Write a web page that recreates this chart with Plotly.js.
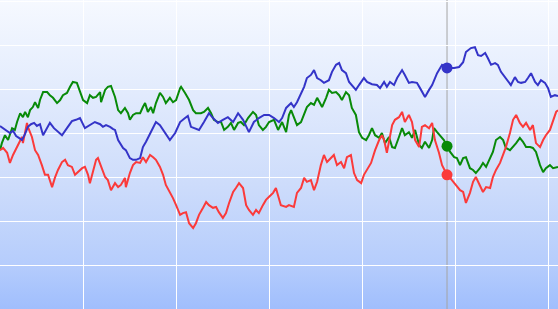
<!DOCTYPE html>
<html>
<head>
<meta charset="utf-8">
<script src="https://cdn.plot.ly/plotly-3.0.1.min.js"></script>
<style>
  html, body { margin: 0; padding: 0; background: #ffffff; }
  #chart {
    width: 558px; height: 309px;
    background: linear-gradient(to bottom, #f6f9ff 0%, #e2ebfd 30%, #cddcfb 60%, #b6cdfc 85%, #a0befd 100%);
  }
</style>
</head>
<body>
<div id="chart"></div>
<script>
// Time index (x) and values (y) for each series
const blueT = [0.0,1.0,1.9,3.2,4.2,5.2,6.1,7.1,8.1,9.0,10.0,11.0,11.9,12.9,13.9,15.2,16.1,17.4,18.7,20.0,21.6,23.2,24.5,25.8,27.4,29.0,30.6,32.3,33.2,34.2,35.5,36.5,37.1,38.1,39.7,40.6,41.9,42.9,43.9,45.2,46.1,47.1,48.7,50.3,51.6,53.2,54.8,56.5,58.1,59.7,60.6,61.6,62.6,64.2,65.8,67.4,68.7,70.3,71.9,73.5,75.2,76.8,78.4,80.3,81.9,83.5,85.2,86.8,88.4,90.0,91.0,92.3,93.9,94.8,95.8,97.1,98.1,99.0,100.3,101.3,102.3,103.5,104.5,106.1,107.1,108.4,109.4,110.3,111.6,112.6,113.5,114.8,115.8,117.4,118.4,120.0,121.6,122.6,123.9,124.8,125.8,127.1,128.1,129.7,130.6,131.9,132.9,134.5,135.5,137.1,138.4,139.4,141.0,142.6,144.2,146.5,148.1,149.4,150.3,151.9,153.2,154.2,155.2,156.5,157.4,158.4,159.7,160.6,161.6,162.9,163.9,164.8,166.1,167.1,168.1,169.4,170.3,171.3,172.6,173.5,174.5,175.8,176.8,177.7,179.0,180.0];
const blueV = [41.6,41.1,40.7,40.0,40.5,39.3,38.9,38.4,39.8,41.4,42.0,42.3,41.6,42.0,39.5,41.1,42.3,41.1,40.2,39.5,41.1,42.7,43.0,43.4,41.1,41.8,42.5,42.0,41.4,41.8,41.4,40.9,40.7,38.4,36.6,36.1,34.3,33.9,33.9,34.3,36.8,38.0,40.2,42.5,41.8,40.2,38.4,40.0,42.5,43.4,43.9,41.4,41.1,40.7,42.5,44.5,43.4,42.3,43.0,43.6,42.5,44.5,43.0,40.2,42.5,43.4,44.1,44.1,43.4,42.5,43.4,45.7,46.8,45.9,47.0,49.1,50.5,52.5,53.2,54.3,52.5,52.0,51.4,52.0,53.9,55.5,55.9,54.3,53.6,51.6,50.9,49.8,50.9,52.5,51.6,51.1,50.9,50.2,51.6,50.5,51.6,50.9,52.5,54.3,53.2,51.4,51.6,51.4,50.2,48.2,49.8,50.9,53.6,55.5,54.8,54.8,55.0,56.1,58.4,59.3,59.5,57.7,57.5,58.2,57.0,55.5,55.9,55.5,53.9,52.7,51.6,50.9,52.7,51.6,51.4,51.6,52.5,53.6,51.6,50.9,52.0,51.4,50.2,48.2,48.6,48.4];

const greenT = [0.0,0.6,1.6,2.6,3.9,4.8,5.5,6.5,7.4,8.1,9.0,9.7,10.6,11.3,12.3,12.9,13.9,15.2,16.1,17.1,18.4,19.4,20.3,21.6,22.6,23.5,24.8,25.8,26.8,28.1,29.0,30.0,31.0,32.3,32.6,33.9,34.8,35.8,37.1,38.1,39.0,40.3,41.3,41.9,42.9,43.9,45.2,46.1,46.8,47.7,48.7,49.4,50.3,51.6,52.6,53.5,54.8,55.8,56.8,58.1,58.4,59.7,61.0,62.3,63.2,64.8,65.8,67.1,68.1,69.0,70.3,71.3,72.3,73.5,74.5,75.5,76.8,77.7,78.7,80.0,81.6,82.6,83.5,84.8,85.8,86.8,88.4,89.7,90.3,91.0,92.3,93.2,93.9,94.8,95.8,97.1,98.1,99.0,100.3,101.3,102.3,103.5,103.9,105.2,106.1,107.1,108.4,109.4,110.3,111.6,112.6,113.5,114.8,115.8,116.8,118.1,119.0,120.0,121.0,122.3,123.2,124.2,125.5,126.5,127.4,128.7,129.7,130.6,131.9,132.9,133.9,135.2,136.1,137.1,138.4,139.4,140.0,141.0,141.9,143.2,144.2,145.2,146.5,147.4,148.4,149.4,150.3,151.6,152.6,153.5,154.8,155.8,156.8,158.1,159.0,160.0,161.3,162.3,163.2,164.5,165.5,166.5,167.7,168.7,169.7,171.0,171.9,172.9,174.2,175.2,176.1,177.4,178.4,179.4,180.0];
const greenV = [36.1,37.7,39.5,38.4,41.1,40.7,42.5,44.5,43.6,44.8,43.6,45.2,45.9,47.0,45.7,47.5,49.3,49.3,48.6,48.0,46.8,47.5,48.6,49.1,50.5,51.6,51.4,49.3,47.5,46.8,48.6,48.0,48.2,49.3,47.0,49.8,50.5,50.7,48.2,45.2,44.5,45.7,44.5,43.0,44.1,44.5,44.5,45.9,46.8,44.8,45.9,44.5,46.8,49.1,48.2,46.8,48.0,47.0,47.5,50.2,50.5,49.1,47.5,45.2,44.5,44.5,44.8,45.7,44.5,43.0,42.5,42.5,40.7,41.4,42.3,40.7,42.3,42.5,41.8,43.4,44.8,44.1,41.8,40.7,41.4,42.5,43.0,40.7,41.6,42.5,40.2,44.1,45.2,43.6,41.8,42.5,44.1,45.9,46.8,46.4,48.0,46.4,45.9,48.0,49.8,49.1,49.3,48.6,47.5,49.3,48.6,45.7,44.1,40.2,38.9,38.4,39.5,41.1,39.5,38.9,40.0,37.7,39.1,36.8,36.6,39.1,41.1,39.5,40.2,38.9,40.7,37.3,36.6,38.0,36.6,38.4,41.1,40.2,39.5,38.4,37.0,35.7,34.5,34.3,32.7,34.3,34.5,32.0,31.6,30.9,32.0,33.2,32.3,34.5,35.7,38.4,39.1,38.4,36.6,36.1,36.8,37.7,38.9,38.0,36.8,36.8,36.6,35.7,32.7,31.1,32.0,32.7,32.0,32.3,32.3];

const redT = [0.0,1.0,2.3,3.2,4.2,5.5,6.5,7.1,7.4,8.1,8.7,9.0,10.3,11.3,12.3,13.5,14.5,15.5,16.8,17.7,18.7,20.0,21.0,21.9,23.2,24.2,25.2,26.5,27.4,28.4,29.0,30.0,31.0,31.6,32.6,33.9,34.8,35.8,37.1,38.1,39.0,40.3,40.6,41.9,42.9,43.9,45.2,46.1,47.1,48.4,49.4,50.3,51.6,52.6,53.5,54.8,55.8,56.8,58.1,59.0,60.0,61.0,62.3,63.2,64.2,65.5,66.5,67.4,68.7,69.7,70.6,71.9,72.9,73.9,75.2,76.1,77.1,78.4,79.4,80.3,81.6,82.6,83.5,84.8,85.8,86.8,88.1,89.0,90.6,92.3,93.2,94.8,95.8,97.1,98.1,99.0,100.3,101.3,102.3,103.5,104.5,105.5,106.8,107.7,108.7,110.0,111.0,111.9,113.2,114.2,115.2,116.5,117.4,118.4,119.7,121.0,122.3,123.2,123.9,124.8,125.5,126.5,127.4,128.7,129.7,130.6,131.9,132.9,133.9,135.2,136.1,137.1,138.4,139.4,140.3,141.6,142.6,144.2,145.2,146.5,147.4,148.4,149.4,150.3,151.6,152.6,153.5,154.8,155.8,156.8,158.1,159.0,160.0,161.3,162.3,163.2,164.5,165.5,166.5,167.7,168.7,169.7,171.0,171.9,172.9,174.2,175.2,176.1,177.4,178.4,179.4,180.0];
const redV = [36.1,36.6,35.5,33.2,35.0,36.8,38.0,39.1,37.7,40.7,42.3,41.4,39.1,36.1,35.0,32.7,30.5,30.5,27.7,29.8,31.6,33.4,33.9,32.7,32.3,30.5,31.1,32.0,32.3,30.5,28.6,31.1,33.9,34.3,32.3,30.0,29.3,27.0,28.6,27.7,28.2,29.8,27.7,30.9,32.7,33.4,33.2,34.5,33.4,35.0,34.5,33.9,32.3,30.5,28.2,26.6,25.2,23.6,21.4,21.8,22.0,19.5,18.4,19.5,21.4,23.0,24.3,23.6,23.0,23.2,22.0,20.7,21.8,24.1,26.6,27.5,28.6,27.5,23.6,22.5,21.4,22.5,21.8,23.6,24.8,25.5,26.4,27.5,23.6,23.2,23.6,23.2,26.4,27.5,29.8,28.9,29.3,27.0,28.9,32.7,35.0,33.4,34.3,35.0,32.7,33.4,32.0,34.5,35.0,30.9,29.3,28.6,30.5,31.6,33.2,36.1,38.4,39.5,38.4,35.5,38.4,41.8,43.0,43.6,44.8,42.5,44.1,42.5,38.4,36.8,41.4,41.8,41.1,42.3,38.4,35.5,32.7,30.5,29.8,28.6,27.7,27.0,26.6,24.1,26.4,28.9,30.0,28.2,26.6,27.7,27.5,30.0,31.6,33.2,35.0,36.8,40.0,43.0,44.1,42.3,41.4,42.3,40.7,41.8,37.7,36.8,38.4,39.5,40.7,43.0,44.8,45.2];

// Hovered time (crosshair position)
const hoverT = 144.2;

const seriesColors = { blue: '#3434c8', green: '#088a08', red: '#fb3a3a' };

function valueAt(ts, vs, t) {
  const i = ts.indexOf(t);
  return vs[i];
}

const traces = [
  { x: greenT, y: greenV, color: seriesColors.green },
  { x: redT, y: redV, color: seriesColors.red },
  { x: blueT, y: blueV, color: seriesColors.blue }
].map(s => ({
  type: 'scatter', mode: 'lines', x: s.x, y: s.y,
  line: { color: s.color, width: 2 }, hoverinfo: 'skip'
}));

const markers = [
  [blueT, blueV, seriesColors.blue],
  [greenT, greenV, seriesColors.green],
  [redT, redV, seriesColors.red]
].map(([ts, vs, c]) => ({
  type: 'scatter', mode: 'markers', x: [hoverT], y: [valueAt(ts, vs, hoverT)],
  marker: { color: c, size: 11 }, hoverinfo: 'skip'
}));

const layout = {
  width: 558, height: 309,
  margin: { l: 0, r: 0, t: 0, b: 0, pad: 0 },
  paper_bgcolor: 'rgba(0,0,0,0)',
  plot_bgcolor: 'rgba(0,0,0,0)',
  showlegend: false,
  xaxis: {
    range: [0, 180], showgrid: true, gridcolor: '#ffffff', gridwidth: 1,
    tick0: 26.8, dtick: 30, showticklabels: false, ticks: '',
    zeroline: false, showline: false, fixedrange: true
  },
  yaxis: {
    range: [0, 70.23], showgrid: true, gridcolor: '#ffffff', gridwidth: 1,
    tick0: 0, dtick: 10, showticklabels: false, ticks: '',
    zeroline: false, showline: false, fixedrange: true
  },
  shapes: [{
    type: 'line', xref: 'x', yref: 'paper', x0: hoverT, x1: hoverT, y0: 0, y1: 1,
    line: { color: '#a4a4a4', width: 1 }, layer: 'below'
  }]
};

Plotly.newPlot('chart', traces.concat(markers), layout, { displayModeBar: false, staticPlot: true });
</script>
</body>
</html>
